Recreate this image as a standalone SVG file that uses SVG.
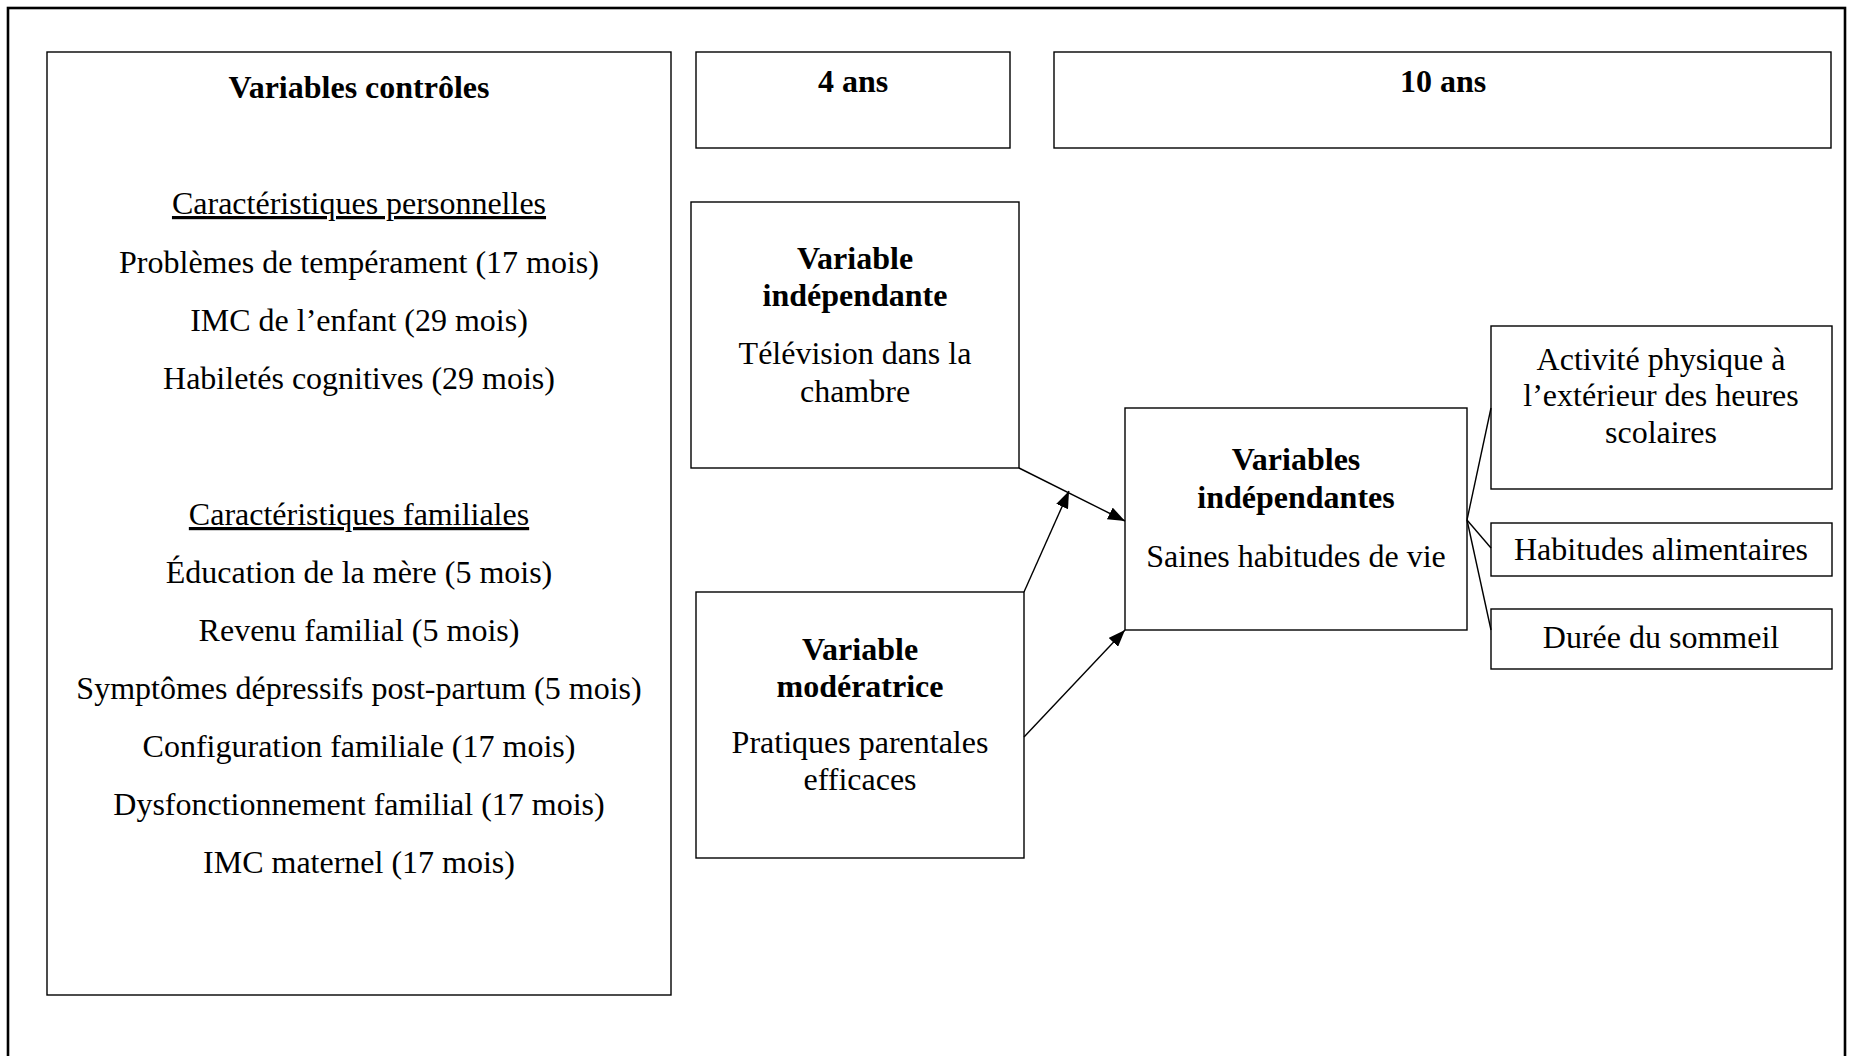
<svg xmlns="http://www.w3.org/2000/svg" width="1853" height="1056" viewBox="0 0 1853 1056">
<style>
.box{fill:#fff;stroke:#000;stroke-width:1.4}
.t{font-family:"Liberation Serif","Times New Roman",serif;font-size:32px;fill:#000;text-anchor:middle}
.b{font-weight:bold}
.u{text-decoration:underline}
.conn{stroke:#000;stroke-width:1.4;fill:none}
</style>
<defs>
<marker id="arr" viewBox="0 0 17 13" refX="17" refY="6.5" markerWidth="17" markerHeight="13" orient="auto" markerUnits="userSpaceOnUse">
<path d="M0,0 L17,6.5 L0,13 z" fill="#000"/>
</marker>
</defs>
<rect width="1853" height="1056" fill="#fff"/>
<rect x="8" y="8" width="1837" height="1070" fill="none" stroke="#000" stroke-width="2.6"/>

<g id="controls">
<rect class="box" x="47" y="52" width="624" height="943"/>
<text class="t b" x="359" y="98">Variables contrôles</text>
<text class="t u" x="359" y="214">Caractéristiques personnelles</text>
<text class="t" x="359" y="273">Problèmes de tempérament (17 mois)</text>
<text class="t" x="359" y="331">IMC de l’enfant (29 mois)</text>
<text class="t" x="359" y="389">Habiletés cognitives (29 mois)</text>
<text class="t u" x="359" y="525">Caractéristiques familiales</text>
<text class="t" x="359" y="583">Éducation de la mère (5 mois)</text>
<text class="t" x="359" y="641">Revenu familial (5 mois)</text>
<text class="t" x="359" y="699">Symptômes dépressifs post-partum (5 mois)</text>
<text class="t" x="359" y="757">Configuration familiale (17 mois)</text>
<text class="t" x="359" y="815">Dysfonctionnement familial (17 mois)</text>
<text class="t" x="359" y="873">IMC maternel (17 mois)</text>
</g>

<g id="age4">
<rect class="box" x="696" y="52" width="314" height="96"/>
<text class="t b" x="853" y="92">4 ans</text>
</g>

<g id="age10">
<rect class="box" x="1054" y="52" width="777" height="96"/>
<text class="t b" x="1443" y="92">10 ans</text>
</g>

<g id="tv">
<rect class="box" x="691" y="202" width="328" height="266"/>
<text class="t b" x="855" y="269">Variable</text>
<text class="t b" x="855" y="306">indépendante</text>
<text class="t" x="855" y="364">Télévision dans la</text>
<text class="t" x="855" y="402">chambre</text>
</g>

<g id="moderator">
<rect class="box" x="696" y="592" width="328" height="266"/>
<text class="t b" x="860" y="660">Variable</text>
<text class="t b" x="860" y="697">modératrice</text>
<text class="t" x="860" y="753">Pratiques parentales</text>
<text class="t" x="860" y="790">efficaces</text>
</g>

<g id="habits">
<rect class="box" x="1125" y="408" width="342" height="222"/>
<text class="t b" x="1296" y="470">Variables</text>
<text class="t b" x="1296" y="508">indépendantes</text>
<text class="t" x="1296" y="567">Saines habitudes de vie</text>
</g>

<g id="activity">
<rect class="box" x="1491" y="326" width="341" height="163"/>
<text class="t" x="1661" y="370">Activité physique à</text>
<text class="t" x="1661" y="406">l’extérieur des heures</text>
<text class="t" x="1661" y="443">scolaires</text>
</g>

<g id="food">
<rect class="box" x="1491" y="523" width="341" height="53"/>
<text class="t" x="1661" y="560">Habitudes alimentaires</text>
</g>

<g id="sleep">
<rect class="box" x="1491" y="609" width="341" height="60"/>
<text class="t" x="1661" y="648">Durée du sommeil</text>
</g>

<g id="connectors">
<line class="conn" x1="1019" y1="468" x2="1125" y2="521" marker-end="url(#arr)"/>
<line class="conn" x1="1024" y1="592" x2="1069" y2="491" marker-end="url(#arr)"/>
<line class="conn" x1="1024" y1="737" x2="1125" y2="630" marker-end="url(#arr)"/>
<line class="conn" x1="1467" y1="520" x2="1491" y2="408"/>
<line class="conn" x1="1467" y1="520" x2="1491" y2="548"/>
<line class="conn" x1="1467" y1="520" x2="1491" y2="630"/>
</g>
</svg>
